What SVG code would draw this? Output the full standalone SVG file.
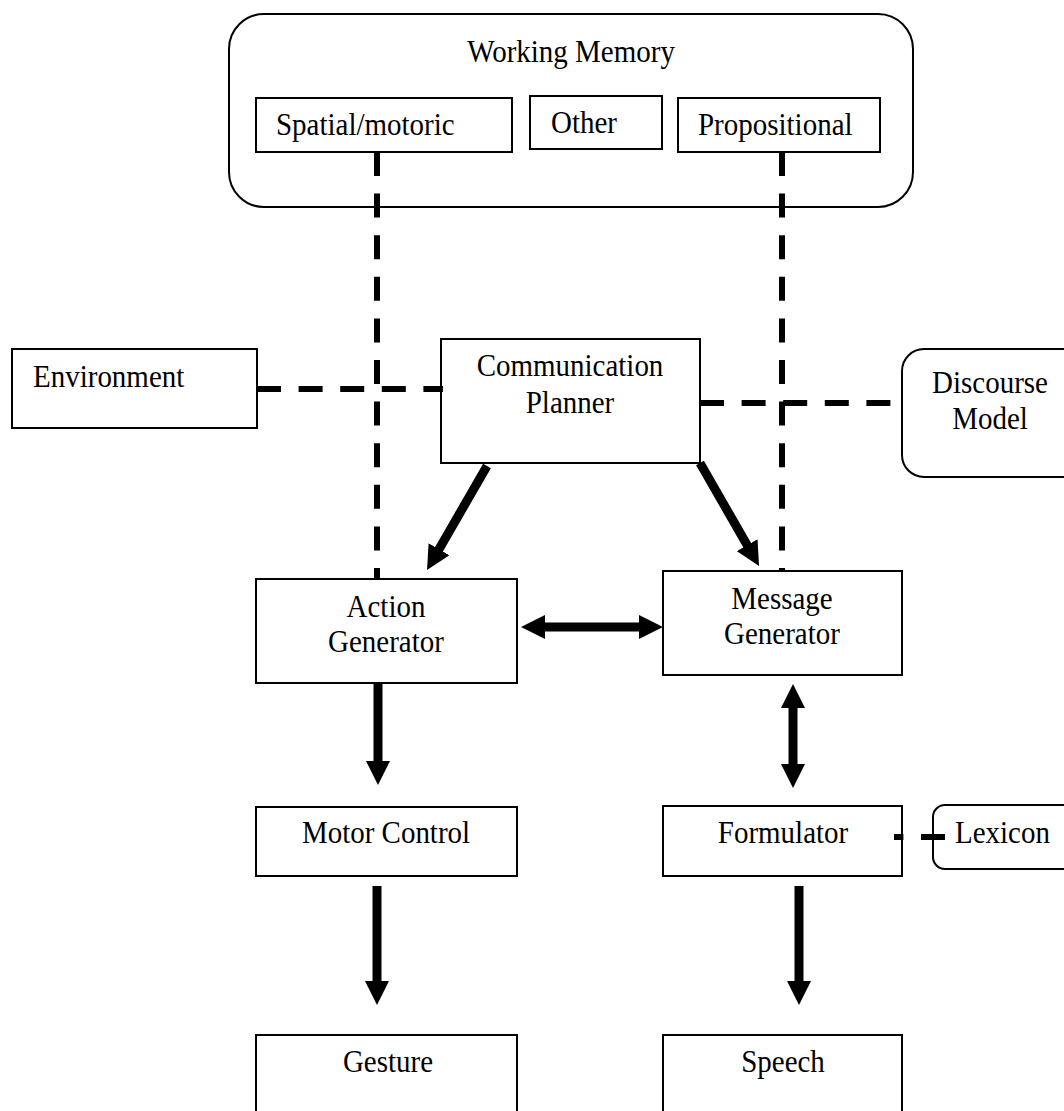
<svg xmlns="http://www.w3.org/2000/svg" width="1064" height="1111" viewBox="0 0 1064 1111">
  <style>
    .box { fill: #ffffff; stroke: #000000; stroke-width: 2; }
    .lbl { font-family: "Liberation Serif", "Times New Roman", serif; font-size: 29px; fill: #000000; }
    .mid { text-anchor: middle; }
    .dash { fill: none; stroke: #000000; stroke-width: 6; stroke-dasharray: 24 17.6; }
    .flow { fill: none; stroke: #000000; stroke-width: 9; }
  </style>
  <defs>
    <marker id="head" viewBox="0 0 24 24" markerUnits="userSpaceOnUse" markerWidth="24" markerHeight="24" refX="4" refY="12" orient="auto-start-reverse">
      <path d="M0,0 L24,12 L0,24 z" fill="#000000"/>
    </marker>
  </defs>
  <rect width="1064" height="1111" fill="#ffffff"/>

  <!-- memory store with its three sub-stores -->
  <g id="working-memory">
    <rect class="box" x="229" y="14" width="684" height="193" rx="35" ry="35"/>
    <text class="lbl mid" transform="translate(571,62) scale(1,1.12)">Working Memory</text>
  </g>
  <g id="spatial-motoric">
    <rect class="box" x="256" y="98" width="256" height="54"/>
    <text class="lbl" transform="translate(276,135) scale(1,1.12)">Spatial/motoric</text>
  </g>
  <g id="other">
    <rect class="box" x="530" y="96" width="132" height="53"/>
    <text class="lbl" transform="translate(551,133) scale(1,1.12)">Other</text>
  </g>
  <g id="propositional">
    <rect class="box" x="678" y="98" width="202" height="54"/>
    <text class="lbl" transform="translate(698,135) scale(1,1.12)">Propositional</text>
  </g>

  <g id="environment">
    <rect class="box" x="12" y="349" width="245" height="79"/>
    <text class="lbl" transform="translate(33,387) scale(1,1.12)">Environment</text>
  </g>
  <g id="communication-planner">
    <rect class="box" x="441" y="339" width="259" height="124"/>
    <text class="lbl mid" transform="translate(570,376) scale(1,1.12)">Communication</text>
    <text class="lbl mid" transform="translate(570,413) scale(1,1.12)">Planner</text>
  </g>
  <g id="discourse-model">
    <rect class="box" x="902" y="349" width="190" height="128" rx="22" ry="22"/>
    <text class="lbl mid" transform="translate(990,393) scale(1,1.12)">Discourse</text>
    <text class="lbl mid" transform="translate(990,429) scale(1,1.12)">Model</text>
  </g>
  <g id="action-generator">
    <rect class="box" x="256" y="579" width="261" height="104"/>
    <text class="lbl mid" transform="translate(386,617) scale(1,1.12)">Action</text>
    <text class="lbl mid" transform="translate(386,652) scale(1,1.12)">Generator</text>
  </g>
  <g id="message-generator">
    <rect class="box" x="663" y="571" width="239" height="104"/>
    <text class="lbl mid" transform="translate(782,609) scale(1,1.12)">Message</text>
    <text class="lbl mid" transform="translate(782,644) scale(1,1.12)">Generator</text>
  </g>
  <g id="motor-control">
    <rect class="box" x="256" y="807" width="261" height="69"/>
    <text class="lbl mid" transform="translate(386,843) scale(1,1.12)">Motor Control</text>
  </g>
  <g id="formulator">
    <rect class="box" x="663" y="806" width="239" height="70"/>
    <text class="lbl mid" transform="translate(783,843) scale(1,1.12)">Formulator</text>
  </g>
  <g id="lexicon">
    <rect class="box" x="933" y="805" width="150" height="64" rx="12" ry="12"/>
    <text class="lbl" transform="translate(955,843) scale(1,1.12)">Lexicon</text>
  </g>
  <g id="gesture">
    <rect class="box" x="256" y="1035" width="261" height="100"/>
    <text class="lbl mid" transform="translate(388,1072) scale(1,1.12)">Gesture</text>
  </g>
  <g id="speech">
    <rect class="box" x="663" y="1035" width="239" height="100"/>
    <text class="lbl mid" transform="translate(783,1072) scale(1,1.12)">Speech</text>
  </g>

  <!-- connectors: dashed links and solid arrows, drawn over the box outlines -->
  <g id="connectors">
    <line class="dash" x1="377" y1="152" x2="377" y2="578"/>
    <line class="dash" x1="782" y1="152" x2="782" y2="571"/>
    <line class="dash" x1="257" y1="389" x2="443" y2="389"/>
    <line class="dash" x1="700" y1="403" x2="902" y2="403"/>
    <line class="dash" x1="945" y1="837" x2="894" y2="837"/>
    <line class="flow" x1="487" y1="466" x2="437" y2="552.7" marker-end="url(#head)"/>
    <line class="flow" x1="700" y1="463" x2="749.1" y2="548.6" marker-end="url(#head)"/>
    <line class="flow" x1="541" y1="627" x2="643" y2="627" marker-start="url(#head)" marker-end="url(#head)"/>
    <line class="flow" x1="378" y1="683" x2="378" y2="765" marker-end="url(#head)"/>
    <line class="flow" x1="793" y1="704" x2="793" y2="768" marker-start="url(#head)" marker-end="url(#head)"/>
    <line class="flow" x1="377" y1="886" x2="377" y2="985" marker-end="url(#head)"/>
    <line class="flow" x1="799" y1="886" x2="799" y2="985" marker-end="url(#head)"/>
  </g>
</svg>
